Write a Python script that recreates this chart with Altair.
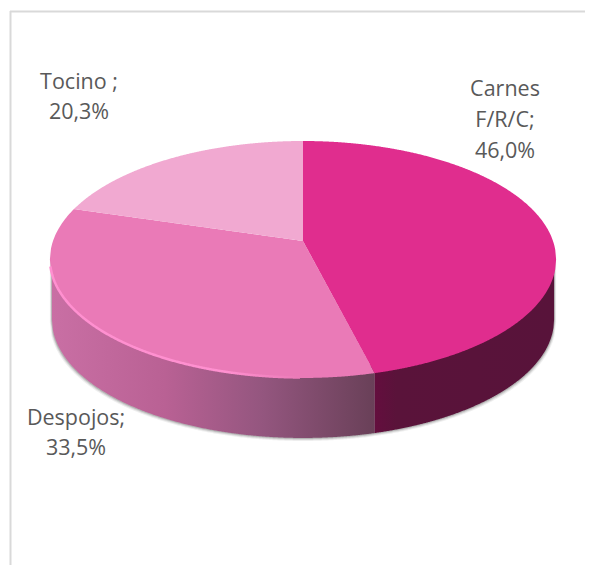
import numpy as np
import pandas as pd
import altair as alt

# Chart values
categories = ["Carnes F/R/C", "Despojos", "Tocino"]
shares = [46.0, 33.5, 20.3]
label_lines = [
    ["Carnes", "F/R/C;", "46,0%"],
    ["Despojos;", "33,5%"],
    ["Tocino ;", "20,3%"],
]

# Drawing parameters of the tilted disc
CX, CY = 303.0, 241.0
A, B, K = 250.0, 115.6, 0.156
DEPTH = 60.0
SHRINK = 0.992


def project(theta):
    u, v = np.sin(theta), np.cos(theta)
    w = 1 + K * v
    return CX + A * u / w, CY - B * v / w


total = sum(shares)
theta_b = 2 * np.pi * shares[0] / total
theta_c = 2 * np.pi * (shares[0] + shares[1]) / total
xb, yb = project(theta_b)
xc, yc = project(theta_c)

t = np.linspace(0, 2 * np.pi, 4001)
ex, ey = project(t)
i_max, i_min = int(np.argmax(ex)), int(np.argmin(ex))
xmin, xmax = float(ex[i_min]), float(ex[i_max])
up_x = np.concatenate([ex[i_min:], ex[1:i_max + 1]])
up_y = np.concatenate([ey[i_min:], ey[1:i_max + 1]])
low_x = ex[i_max:i_min + 1][::-1]
low_y = ey[i_max:i_min + 1][::-1]


def upper(x):
    return np.interp(x, up_x, up_y)


def lower(x):
    return np.interp(x, low_x, low_y)


def seg(x, x0, y0, x1, y1):
    return y0 + (x - x0) * (y1 - y0) / (x1 - x0)


def grid(a, b, *extra):
    g = np.concatenate([np.linspace(a, b, 300), [e for e in extra if a < e < b]])
    return np.unique(g)


# Top faces
gx = grid(CX, xmax, xb)
carnes = pd.DataFrame({
    "x": gx, "y": upper(gx),
    "y2": np.where(gx < xb, seg(gx, CX, CY, xb, yb), lower(gx)),
})
gx = grid(xmin, xb, xc, CX)
despojos = pd.DataFrame({
    "x": gx,
    "y": np.where(gx < xc, upper(gx),
                  np.where(gx < CX, seg(gx, xc, yc, CX, CY), seg(gx, CX, CY, xb, yb))),
    "y2": lower(gx),
})
gx = grid(xc, CX)
tocino = pd.DataFrame({"x": gx, "y": upper(gx), "y2": seg(gx, xc, yc, CX, CY)})


# Side wall
def wall(a, b, dx=0.0, dy=0.0, grow=0.0):
    g = grid(max(a, CX + (xmin - CX) * (SHRINK + grow) + dx),
             min(b, CX + (xmax - CX) * (SHRINK + grow) + dx))
    src = CX + (g - dx - CX) / (SHRINK + grow)
    return pd.DataFrame({"x": g, "y": lower(g) - 8, "y2": lower(src) + DEPTH + dy})


W, H = 577, 557
xs = alt.Scale(domain=[8, 8 + W], nice=False, zero=False)
ys = alt.Scale(domain=[8 + H, 8], nice=False, zero=False)
X = alt.X("x:Q", scale=xs, axis=None)
Y = alt.Y("y:Q", scale=ys, axis=None)


def area(df, **kw):
    return alt.Chart(df).mark_area(**kw).encode(x=X, y=Y, y2=alt.Y2("y2:Q"))


def hgrad(stops):
    return alt.Gradient(gradient="linear", x1=0, x2=1, y1=0, y2=0,
                        stops=[alt.GradientStop(offset=o, color=c) for o, c in stops])


layers = []
# Frame of the chart
frame_v = pd.DataFrame({"x": [10.5, 10.5], "y": [11, 565]})
frame_h = pd.DataFrame({"x": [10, 585], "y": [11.5, 11.5]})
for fr in (frame_v, frame_h):
    layers.append(alt.Chart(fr).mark_line(color="#d9d9d9", strokeWidth=2).encode(x=X, y=Y))

# Soft shadow round the wall
for grow, dy, op in [(0.008, 3, 0.10), (0.005, 2, 0.16), (0.003, 1, 0.25)]:
    layers.append(area(wall(xmin - 5, xmax + 5, 0, dy, grow), color="#555555", opacity=op))

layers.append(area(wall(xmin, xb),
                   color=hgrad([(0, "#c96fa4"), (0.35, "#b96194"), (0.65, "#94567f"), (1, "#694058")])))
layers.append(area(wall(xb, xmax),
                   color=hgrad([(0, "#640e3e"), (0.12, "#5a133a"), (1, "#58133a")])))

layers.append(area(despojos, color="#ea7ab7"))
layers.append(area(tocino, color="#f1a9d1"))
layers.append(area(carnes, color="#e02d8e"))

# Lit rim on the front left of the top face
gx = grid(xmin + 0.5, 300)
rim = pd.DataFrame({"x": gx, "y": lower(gx) - 0.5})
layers.append(alt.Chart(rim).mark_line(
    strokeWidth=2.5,
    stroke=hgrad([(0, "#ff90d0"), (0.7, "#ff90d0"), (1, "#ea7ab7")]),
).encode(x=X, y=Y))

# Data labels
anchors = [(505, [90, 121, 152]), (76, [419, 449]), (79, [83, 113])]
rows = []
for lines, (ax, ay) in zip(label_lines, anchors):
    for text, y in zip(lines, ay):
        rows.append({"x": ax, "y": y, "text": text})
layers.append(alt.Chart(pd.DataFrame(rows)).mark_text(
    font="Open Sans", fontSize=21.5, color="#595959", align="center", baseline="middle"
).encode(x=X, y=Y, text="text:N"))

chart = alt.layer(*layers).properties(
    width=W, height=H, padding=0, autosize=alt.AutoSizeParams(type="none"),
    background="white",
).configure_view(stroke=None)

chart.save("out.html", embed_options={"renderer": "svg", "actions": False})
